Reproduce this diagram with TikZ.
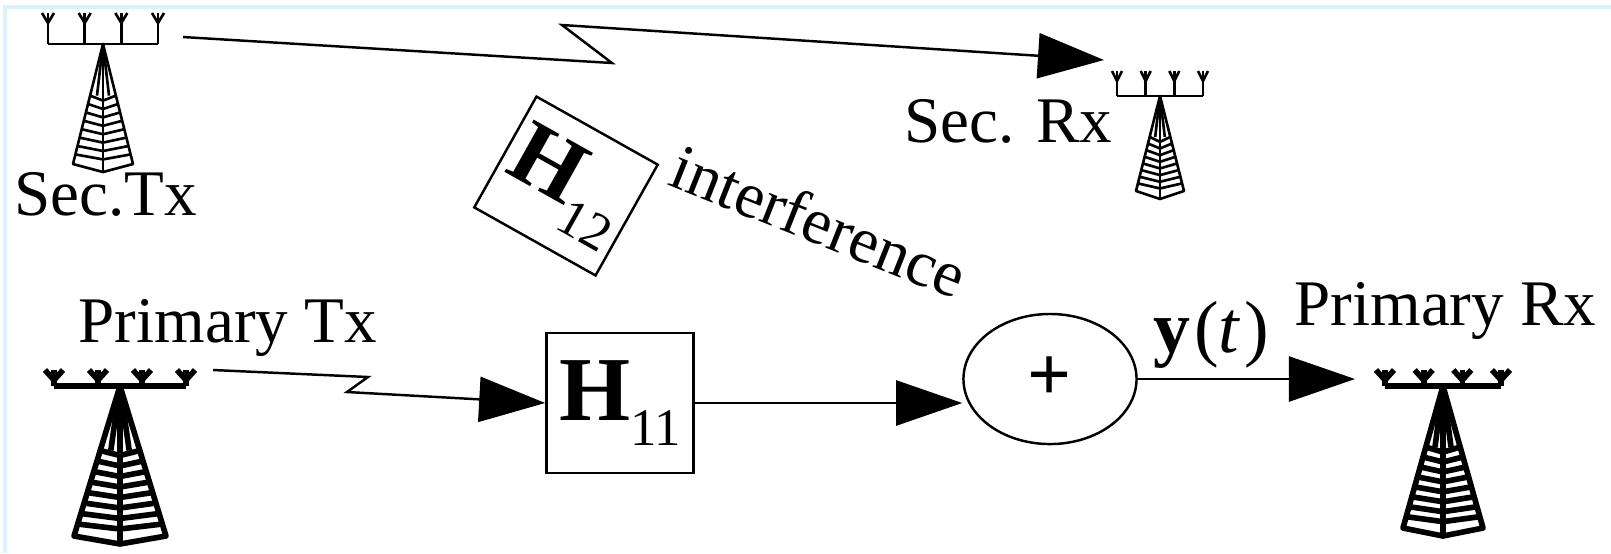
\documentclass[tikz,border=0pt]{standalone}
\usepackage{fontspec}
\setmainfont{Liberation Serif}
\usetikzlibrary{arrows.meta,shapes.geometric}

\newcommand{\chanmat}[1]{{\fontsize{26}{26}\selectfont\bfseries H}\raisebox{-7pt}{\fontsize{15}{15}\selectfont #1}}

\tikzset{
  pics/mast/.style args={#1/#2/#3/#4/#5}{code={
    % antennen
    \draw (-#1,0) -- (#1,0);
    \foreach \k in {-1,-0.333,0.333,1} {
      \draw (\k*#1,0) -- (\k*#1,#4);
      \draw (\k*#1-#5,#4) -- (\k*#1,#4-10) -- (\k*#1+#5,#4);
    }
    % mast
    \draw (0,0) -- (-#2,-#3) -- (0,-#3-8) -- (#2,-#3) -- cycle;
    \draw (0,0) -- (0,-#3-8);
    \draw (-0.2*#2,-0.43*#3) -- (0,0) -- (0.2*#2,-0.43*#3);
    \foreach \t in {43,50,...,92}
      \draw (-\t*#2/100,-\t*#3/100) -- (0,-\t*#3/100-5) -- (\t*#2/100,-\t*#3/100);
  }}
}

\begin{document}
\begin{tikzpicture}[x=0.01cm, y=0.01cm,
    every node/.style={font=\fontsize{18.5}{22}\selectfont, inner sep=0pt},
    chan/.style={draw, line width=0.7pt, minimum width=1.47cm, minimum height=1.40cm},
    adder/.style={ellipse, draw, line width=0.7pt, minimum width=1.73cm, minimum height=1.3cm},
    sig/.style={line width=0.7pt, -{Triangle[length=0.66cm, width=0.45cm]}},
    thin mast/.style={line width=0.75pt, line join=round},
    bold mast/.style={line width=1.6pt, line join=round}]
    \useasboundingbox (0,0) rectangle (1611,-553);
    \draw[cyan!15, line width=1pt] (5,-553) -- (5,-7) -- (1611,-7);

    % Sekundaer
    \pic[thin mast] at (103,-44) {mast=55/30/120/31/6};
    \pic[thin mast] at (1160,-96) {mast=43/24/95/25/5};
    \node[anchor=base] (stxlabel) at (106,-215) {Sec.Tx};
    \node[anchor=base east] (srxlabel) at (1113,-142) {Sec. Rx};

    % Primaer
    \pic[bold mast] at (120,-386) {mast=66/46/150/16/9};
    \pic[bold mast] at (1443,-386) {mast=58/40/142/16/9};
    \node[anchor=base west] (ptxlabel) at (78,-342) {Primary Tx};
    \node[anchor=base east] (prxlabel) at (1597,-325) {Primary Rx};

    % Kanaele
    \node[chan] (h11) at (620,-403) {\chanmat{11}};
    \node[chan, rotate=-29.3, minimum width=1.39cm, minimum height=1.27cm] (h12) at (566,-186) {\chanmat{12}};
    \node[rotate=-21.7, anchor=base] (interf) at (811,-242) {interference};
    \node[adder] (sum) at (1050,-379) {\fontsize{22}{22}\selectfont\bfseries +};
    \node[anchor=base west, font=\fontsize{21}{24}\selectfont] (ylabel) at (1153,-352) {\textbf{y}\kern1pt(\textit{t}\kern1pt)};

    % Verbindungen
    \coordinate (stxport) at (183,-37);
    \coordinate (srxport) at (1104,-60);
    \coordinate (ptxport) at (213,-370);
    \coordinate (prxport) at (1355,-379);
    \draw[sig] (stxport) -- (612,-63) -- (562,-25) -- (srxport);
    \draw[sig] (ptxport) -- (368,-377) -- (347,-392) -- (h11.west);
    \draw[sig] (h11.east) -- (h11.east -| sum.west);
    \draw[sig] (sum.east) -- (prxport);
\end{tikzpicture}
\end{document}
